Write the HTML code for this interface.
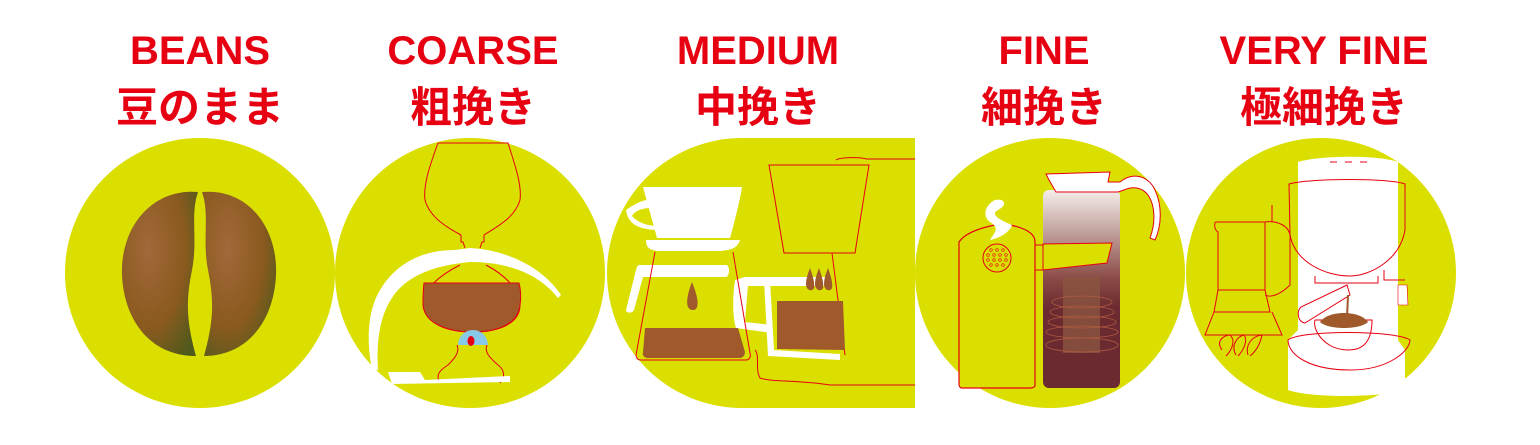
<!DOCTYPE html>
<html><head><meta charset="utf-8"><style>
html,body{margin:0;padding:0;background:#fff;width:1540px;height:445px;overflow:hidden}
svg{display:block}
.t{font-family:"Liberation Sans","Noto Sans CJK JP",sans-serif;font-weight:bold;fill:#e60012;text-anchor:middle}
</style></head><body>
<svg width="1540" height="445" viewBox="0 0 1540 445" xmlns="http://www.w3.org/2000/svg">
<defs>
<radialGradient id="bean" cx="0.35" cy="0.35" r="0.8">
<stop offset="0" stop-color="#a2683a"/><stop offset="0.6" stop-color="#8a5a1e"/><stop offset="1" stop-color="#4f5a1c"/>
</radialGradient>
<linearGradient id="pot" x1="0" y1="0" x2="0" y2="1">
<stop offset="0" stop-color="#f4eeea"/><stop offset="0.45" stop-color="#8a4a45"/><stop offset="0.6" stop-color="#6a2a30"/><stop offset="1" stop-color="#6a2a30"/>
</linearGradient>
</defs>
<!-- titles -->
<g class="t" font-size="40">
<text x="200" y="64">BEANS</text>
<text x="473" y="64">COARSE</text>
<text x="758" y="64">MEDIUM</text>
<text x="1044" y="64">FINE</text>
<text x="1324" y="64">VERY FINE</text>
</g>
<g class="t" font-size="42">
<text x="200" y="122">豆のまま</text>
<text x="473" y="122">粗挽き</text>
<text x="758" y="122">中挽き</text>
<text x="1044" y="122">細挽き</text>
<text x="1324" y="122">極細挽き</text>
</g>
<!-- backgrounds -->
<g fill="#dbdf00">
<circle cx="200" cy="273" r="135"/>
<circle cx="470" cy="273" r="135"/>
<path d="M742 138 H915 V408 H742 A135 135 0 0 1 742 138 Z"/>
<circle cx="1050" cy="273" r="135"/>
<circle cx="1321" cy="273" r="135"/>
</g>
<!-- beans -->
<path d="M198 192 C150 188 120 230 122 275 C124 320 150 356 196 356 C186 320 186 300 192 270 C198 240 190 215 198 192 Z" fill="url(#bean)"/>
<path d="M202 192 C250 188 278 230 276 275 C274 320 248 356 204 356 C214 320 214 300 208 270 C202 240 210 215 202 192 Z" fill="url(#bean)"/>
<!-- coarse siphon -->
<g fill="none" stroke="#e60012" stroke-width="1">
<path d="M438 143 H508 C515 165 522 185 520 200 C515 218 495 228 484 235 V242 H482 L480 248 M438 143 C430 165 423 185 425 200 C430 218 448 228 461 235 V242 H463 L465 248"/>
<path d="M460 265 C440 275 422 290 423 305 C425 325 450 332 473 332 C496 332 520 325 520 305 C520 290 505 275 486 265"/>
<path d="M457 345 C460 352 455 358 448 365 C440 370 435 375 440 383 M487 345 C484 352 490 358 498 365 C505 370 505 378 500 383"/>
</g>
<path d="M424 283 H519 C521 290 521 300 520 305 C518 325 496 332 473 332 C450 332 425 325 423 305 C423 298 423 290 424 283 Z" fill="#a0592a" stroke="#e60012"/>
<path d="M458 345 A15 15 0 0 1 488 345 Z" fill="#88c8e8"/>
<ellipse cx="471" cy="341" rx="3.5" ry="5" fill="#e60012"/>
<path d="M455 250 C420 250 395 265 380 290 C365 315 368 350 372 370 L378 370 C376 340 380 310 398 290 C415 272 440 265 470 262 C510 262 540 275 558 298 L561 295 C545 270 510 250 470 248 Z" fill="#fff"/>
<path d="M388 372 L420 372 L425 380 L510 376 L510 382 L392 384 Z" fill="#fff"/>
<!-- medium: dripper -->
<g fill="#fff">
<path d="M643 187 H742 C740 200 735 220 730 238 H657 Z"/>
<path d="M626 210 C640 200 650 198 660 200 L660 208 C645 207 635 210 632 216 C640 225 652 226 660 226 L660 230 C640 230 628 225 626 210 Z"/>
<path d="M646 240 H740 C737 250 728 250 720 251 H658 C650 250 646 248 646 240 Z"/>
<path d="M640 265 H726 C730 265 730 276 726 277 H643 L634 310 C632 314 626 313 626 310 L636 270 C637 266 638 265 640 265 Z"/>
<path d="M745 277 H830 V286 H745 Z"/>
<path d="M745 277 L735 280 C732 300 733 320 736 328 L772 333 L772 325 L745 322 L748 285 Z"/>
<path d="M770 280 L774 350 L840 354 L840 360 L768 356 L764 280 Z"/>
</g>
<g fill="none" stroke="#e60012" stroke-width="1">
<path d="M655 252 L636 355 C636 358 638 360 640 360 H746 C750 360 751 356 750 353 L733 252"/>
<path d="M769 165 H869 L855 253 H784 Z"/>
<path d="M836 160 C840 157 862 157 866 159 H915 M755 350 C760 355 755 370 760 378 C770 382 800 380 830 385 H915"/>
<path d="M832 253 L845 355"/>
</g>
<path d="M645 328 H738 L745 352 C745 356 742 358 740 358 H648 C644 358 642 355 643 352 Z" fill="#a0592a"/>
<path d="M692 282 C688 292 686 302 688 307 C690 311 696 311 697 307 C699 302 696 292 692 282 Z" fill="#a0592a"/>
<path d="M777 301 H843 L845 350 L777 349 Z" fill="#a0592a"/>
<g fill="#a0592a">
<path d="M810 268 C806 278 805 285 807 288 C809 291 813 291 814 288 C815 284 813 276 810 268 Z"/>
<path d="M819 268 C815 278 814 285 816 288 C818 291 822 291 823 288 C824 284 822 276 819 268 Z"/>
<path d="M828 268 C824 278 823 285 825 288 C827 291 831 291 832 288 C833 284 831 276 828 268 Z"/>
</g>
<!-- fine -->
<rect x="1043" y="190" width="77" height="198" rx="6" fill="url(#pot)"/>
<rect x="1063" y="277" width="37" height="76" fill="#8a5540" opacity="0.8"/>
<g fill="none" stroke="#b05a40" stroke-width="0.8">
<ellipse cx="1082" cy="302" rx="30" ry="6"/><ellipse cx="1082" cy="312" rx="32" ry="6"/>
<ellipse cx="1082" cy="322" rx="34" ry="6"/><ellipse cx="1082" cy="332" rx="36" ry="6"/><ellipse cx="1082" cy="345" rx="36" ry="7"/>
</g>
<path d="M1049 180 L1046 174 L1110 172 L1108 182 L1120 182 C1132 172 1148 175 1155 190 C1162 205 1162 225 1155 240 L1150 238 C1156 222 1155 205 1148 195 C1142 187 1132 186 1124 190 L1118 192 H1056 Z" fill="#fff" stroke="#e60012" stroke-width="1"/>
<path d="M1043 244 L1112 243 L1107 263 L1043 270 Z" fill="#dbdf00" stroke="#e60012"/>
<path d="M959 242 C965 233 980 228 995 225 H1010 C1025 228 1035 233 1035 242 V385 C1035 387 1033 388 1030 388 H962 C960 388 959 386 959 384 Z" fill="#dbdf00" stroke="#e60012" stroke-width="1.2"/>
<path d="M1035 245 H1043 M1035 270 H1043" stroke="#e60012"/>
<circle cx="997" cy="258" r="14" fill="none" stroke="#e60012"/>
<g fill="none" stroke="#e60012" stroke-width="0.6">
<circle cx="991" cy="250" r="1.3"/><circle cx="997" cy="250" r="1.3"/><circle cx="1003" cy="250" r="1.3"/>
<circle cx="988" cy="255" r="1.3"/><circle cx="994" cy="255" r="1.3"/><circle cx="1000" cy="255" r="1.3"/><circle cx="1006" cy="255" r="1.3"/>
<circle cx="988" cy="260" r="1.3"/><circle cx="994" cy="260" r="1.3"/><circle cx="1000" cy="260" r="1.3"/><circle cx="1006" cy="260" r="1.3"/>
<circle cx="991" cy="265" r="1.3"/><circle cx="997" cy="265" r="1.3"/><circle cx="1003" cy="265" r="1.3"/>
</g>
<path d="M995 200 C1005 198 1008 205 998 210 C988 215 1005 222 1012 225 C1010 232 1000 238 990 240 C995 232 1000 228 990 222 C982 216 985 205 995 200 Z" fill="#fff"/>
<!-- very fine: espresso machine -->
<path d="M1298 162 C1320 155 1380 155 1398 162 V340 L1405 350 V390 C1380 398 1310 398 1288 390 V340 L1298 330 Z" fill="#fff"/>
<g fill="none" stroke="#e60012" stroke-width="1">
<path d="M1289 184 C1310 178 1390 178 1405 184 V230 C1400 260 1370 276 1350 276 C1325 276 1295 262 1290 235 Z"/>
<path d="M1288 340 C1300 330 1395 330 1410 340 C1410 350 1390 370 1350 370 C1310 370 1288 355 1288 340 Z"/>
<path d="M1301 307 C1296 312 1298 322 1305 323 L1350 295 L1347 285 Z"/>
<path d="M1315 320 C1312 330 1325 350 1348 350 C1360 350 1372 345 1372 320 Z"/>
<path d="M1330 162 H1337 M1345 162 H1352 M1360 162 H1367"/>
<path d="M1315 276 V283 H1378 V276 M1384 270 V280 H1405"/>
<path d="M1216 222 C1214 222 1214 230 1218 232 V290 H1265 V222 Z M1265 222 C1275 220 1292 225 1290 240 V285 C1280 295 1270 298 1265 295"/>
<path d="M1218 290 L1214 312 H1270 L1265 290 M1214 312 L1205 335 H1282 L1272 312"/>
<path d="M1222 350 C1215 340 1225 335 1230 335 C1236 340 1232 350 1226 356 M1236 355 C1230 345 1238 336 1244 335 C1248 340 1244 350 1238 356 M1248 355 C1245 345 1252 336 1262 335 C1260 345 1255 352 1250 356"/>
<path d="M1272 205 V222"/>
</g>
<path d="M1320 322 C1328 310 1360 310 1368 322 C1360 330 1328 330 1320 322 Z" fill="#a0592a"/>
<path d="M1348 295 L1347 318" stroke="#a0592a" stroke-width="2"/>
<path d="M1398 285 H1407 L1408 305 L1398 305 Z" fill="#fff" stroke="#e60012" stroke-width="0.6"/>
</svg>
</body></html>
